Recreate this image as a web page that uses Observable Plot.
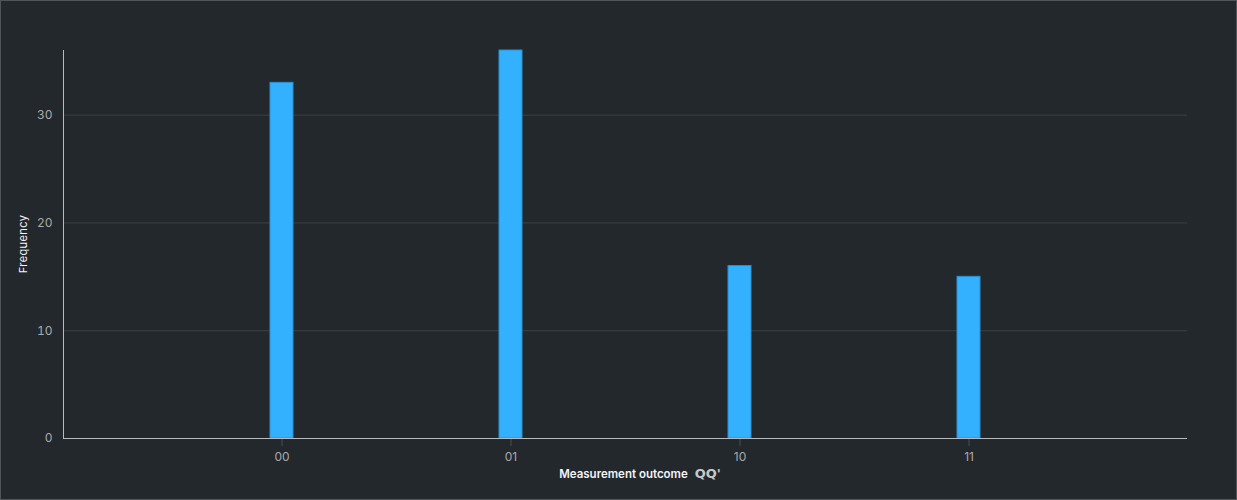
<!DOCTYPE html>
<html>
<head>
<meta charset="utf-8">
<script src="https://cdn.jsdelivr.net/npm/d3@7"></script>
<script src="https://cdn.jsdelivr.net/npm/@observablehq/plot@0.6"></script>
<style>
  html, body { margin: 0; padding: 0; background: #23282c; }
  #chart { width: 1237px; height: 500px; position: relative; overflow: hidden; }
  #chart svg { position: absolute; left: 0; top: 0; }
  #border { position: absolute; left: 0; top: 0; width: 1237px; height: 500px; box-sizing: border-box; border: 1px solid #50555a; pointer-events: none; }
</style>
</head>
<body>
<div id="chart"><div id="border"></div></div>
<script>
const outcomes = ["00", "01", "10", "11"];
const frequencies = [33, 36, 16, 15];
const yTicks = [0, 10, 20, 30];

const data = outcomes.map((o, i) => ({outcome: o, freq: frequencies[i]}));

const plot = Plot.plot({
  width: 1237,
  height: 500,
  marginLeft: 63,
  marginRight: 50,
  marginTop: 50,
  marginBottom: 62,
  style: {background: "transparent", fontFamily: "Inter, 'Open Sans', sans-serif", fontSize: "12px"},
  x: {domain: outcomes, paddingInner: 0.9, paddingOuter: 0.904, label: null},
  y: {domain: [0, 36], label: null},
  marks: [
    Plot.gridY(yTicks, {stroke: "#3b4146", strokeOpacity: 1, strokeWidth: 1}),
    Plot.barY(data, {x: "outcome", y: "freq", fill: "#33b1ff", stroke: "#2a8fd0", strokeWidth: 1}),
    Plot.axisY(yTicks, {tickSize: 0, tickPadding: 11, fill: "#a8abae", fontSize: 12, label: null}),
    Plot.axisX({tickSize: 8, stroke: "#4a4f54", tickPadding: 6, fill: "#a8abae", fontSize: 12, label: null}),
    Plot.ruleY([0], {stroke: "#b8bbbe", strokeWidth: 1})
  ]
});

document.getElementById("chart").insertBefore(plot, document.getElementById("border"));

const svg = d3.select(plot);
// left axis line
svg.append("line")
  .attr("x1", 63.5).attr("x2", 63.5).attr("y1", 50).attr("y2", 438)
  .attr("stroke", "#b8bbbe").attr("stroke-width", 1);

// y-axis title
svg.append("text")
  .attr("transform", "translate(27,244) rotate(-90)")
  .attr("text-anchor", "middle")
  .attr("fill", "#f2f4f8")
  .style("font-family", "Inter, 'Open Sans', sans-serif")
  .style("font-size", "11px")
  .style("letter-spacing", "0.4px")
  .text("Frequency");

// x-axis title
const xt = svg.append("text")
  .attr("x", 640)
  .attr("y", 478)
  .attr("text-anchor", "middle")
  .style("font-family", "Inter, 'Open Sans', sans-serif");
xt.append("tspan").attr("fill", "#f2f4f8").style("font-size", "11.5px").style("font-weight", "600").text("Measurement outcome");
xt.append("tspan").attr("dx", 7).attr("fill", "#c6c8ca").style("font-size", "13px").style("font-weight", "700").style("font-family", "'DejaVu Sans', sans-serif").text("QQ'");
</script>
</body>
</html>
